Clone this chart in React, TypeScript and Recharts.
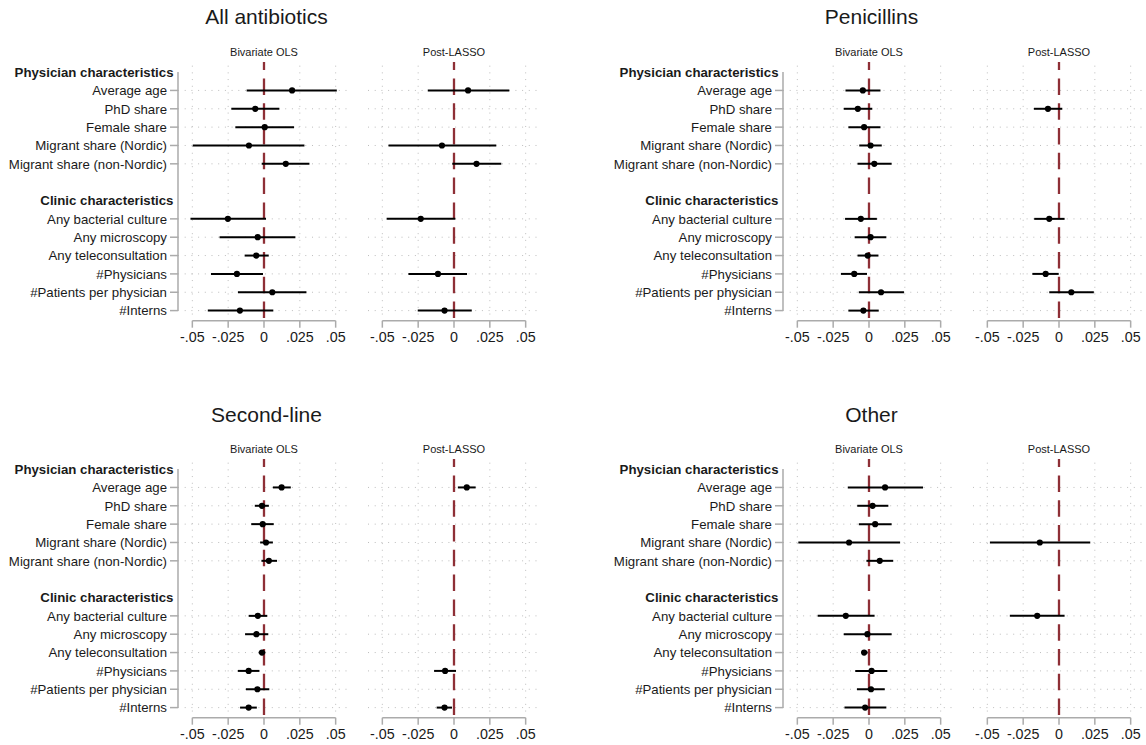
import React from 'react';
import { ScatterChart, Scatter, XAxis, YAxis, ErrorBar, ReferenceLine } from 'recharts';

// ---------- Data ----------
const rowLabels = [
  'Physician characteristics',
  'Average age',
  'PhD share',
  'Female share',
  'Migrant share (Nordic)',
  'Migrant share (non-Nordic)',
  '',
  'Clinic characteristics',
  'Any bacterial culture',
  'Any microscopy',
  'Any teleconsultation',
  '#Physicians',
  '#Patients per physician',
  '#Interns',
];
const headerRows = [0, 7];
const variableRows = [1, 2, 3, 4, 5, 8, 9, 10, 11, 12, 13];
const allRows = [0, 1, 2, 3, 4, 5, 6, 7, 8, 9, 10, 11, 12, 13];
const xTicks = [-0.05, -0.025, 0, 0.025, 0.05];
const gridX = [-0.05, -0.025, 0.025, 0.05];
const panelTitles = ['All antibiotics', 'Penicillins', 'Second-line', 'Other'];
const subTitles = ['Bivariate OLS', 'Post-LASSO'];

// All antibiotics
const allOlsCoef = [0.0196, -0.0061, 0.0005, -0.0105, 0.0152, -0.0252, -0.0044, -0.0054, -0.0189, 0.0058, -0.0168];
const allOlsLow = [-0.0121, -0.0228, -0.02, -0.0497, -0.0016, -0.0513, -0.031, -0.0135, -0.037, -0.0182, -0.0392];
const allOlsHigh = [0.0508, 0.0107, 0.021, 0.0282, 0.0317, 0.0014, 0.0219, 0.0033, -0.0007, 0.0296, 0.0065];
const allLassoCoef = [0.0098, null, null, -0.0084, 0.0157, -0.0232, null, null, -0.0112, null, -0.0066];
const allLassoLow = [-0.0183, null, null, -0.0457, -0.0012, -0.047, null, null, -0.0318, null, -0.0253];
const allLassoHigh = [0.0386, null, null, 0.0295, 0.033, 0.0009, null, null, 0.0091, null, 0.0124];

// Penicillins
const penOlsCoef = [-0.0043, -0.0078, -0.0034, 0.0011, 0.0037, -0.0057, 0.0011, -0.0009, -0.0103, 0.0084, -0.0039];
const penOlsLow = [-0.0164, -0.0176, -0.0144, -0.0068, -0.008, -0.0167, -0.01, -0.008, -0.0196, -0.0071, -0.0144];
const penOlsHigh = [0.008, 0.0023, 0.008, 0.0089, 0.0158, 0.0055, 0.0121, 0.0066, -0.0014, 0.0244, 0.0068];
const penLassoCoef = [null, -0.0077, null, null, null, -0.0068, null, null, -0.0093, 0.0086, null];
const penLassoLow = [null, -0.0175, null, null, null, -0.0173, null, null, -0.0186, -0.0068, null];
const penLassoHigh = [null, 0.0023, null, null, null, 0.0039, null, null, -0.0002, 0.0243, null];

// Second-line
const secOlsCoef = [0.0123, -0.0014, -0.0009, 0.0014, 0.0034, -0.0043, -0.0053, -0.0014, -0.0107, -0.0046, -0.0107];
const secOlsLow = [0.0062, -0.0064, -0.0089, -0.0027, -0.0018, -0.0107, -0.0132, -0.0037, -0.0183, -0.0126, -0.0167];
const secOlsHigh = [0.0187, 0.0034, 0.0068, 0.0062, 0.0091, 0.0023, 0.003, 0.0009, -0.0032, 0.0037, -0.005];
const secLassoCoef = [0.0089, null, null, null, null, null, null, null, -0.0062, null, -0.0066];
const secLassoLow = [0.0027, null, null, null, null, null, null, null, -0.0139, null, -0.0121];
const secLassoHigh = [0.0151, null, null, null, null, null, null, null, 0.0014, null, -0.0014];

// Other
const othOlsCoef = [0.0112, 0.0025, 0.0043, -0.0139, 0.0075, -0.0162, -0.0011, -0.0034, 0.0018, 0.0014, -0.0027];
const othOlsLow = [-0.0148, -0.0082, -0.0071, -0.0493, -0.0018, -0.0358, -0.0176, -0.005, -0.0096, -0.0084, -0.0171];
const othOlsHigh = [0.0377, 0.0135, 0.0158, 0.0217, 0.0169, 0.0039, 0.0158, -0.0009, 0.0128, 0.011, 0.0121];
const othLassoCoef = [null, null, null, -0.0134, null, -0.0152, null, null, null, null, null];
const othLassoLow = [null, null, null, -0.0482, null, -0.0343, null, null, null, null, null];
const othLassoHigh = [null, null, null, 0.0218, null, 0.0039, null, null, null, null, null];

// ---------- Style / layout ----------
const FONT = '"Liberation Sans", Arial, Helvetica, sans-serif';
const TEXT = '#1a1a1a';
const GRAY = '#ababab';
const GRID = '#bdbdbd';
const RED = '#8e2f36';
const PLOT_W = 172;
const PLOT_H = 258.7;
const AXIS_H = 30;
const Y_AXIS_W = 178;
const LASSO_LEFT = 368;
const panelLefts = [0, 605];
const panelPlotTops = [61.7, 459.2];
const titleBaselines = [24, 422];
const subBaselines = [55.5, 453];

type Pt = { x: number; row: number; err: [number, number] };

function buildPoints(coef: (number | null)[], low: (number | null)[], high: (number | null)[]): Pt[] {
  const pts: Pt[] = [];
  coef.forEach((c, i) => {
    if (c === null || low[i] === null || high[i] === null) return;
    pts.push({ x: c, row: variableRows[i], err: [c - (low[i] as number), (high[i] as number) - c] });
  });
  return pts;
}

const fmt = (v: number) => {
  if (v === 0) return '0';
  const s = String(Math.abs(v)).replace(/^0/, '');
  return (v < 0 ? '-' : '') + s;
};

const renderYTick = (props: any) => {
  const { x, y, payload } = props;
  const row = payload.value as number;
  const label = rowLabels[row];
  if (!label) return <g />;
  const isHeader = headerRows.includes(row);
  return (
    <g>
      {!isHeader && <line x1={x - 8} x2={x} y1={y} y2={y} stroke={GRAY} strokeWidth={1.5} />}
      <text
        x={isHeader ? x - 4.5 : x - 11}
        y={y}
        dy="0.36em"
        textAnchor="end"
        fontFamily={FONT}
        fontSize={13.25}
        fontWeight={isHeader ? 'bold' : 'normal'}
        fill={TEXT}
      >
        {label}
      </text>
    </g>
  );
};

const Dot = (props: any) => <circle cx={props.cx} cy={props.cy} r={3.1} fill="#000" />;

function SubPlot({ points, showY, left, top }: { points: Pt[]; showY: boolean; left: number; top: number }) {
  const yW = showY ? Y_AXIS_W : 0;
  return (
    <div style={{ position: 'absolute', left: left - yW, top }}>
      <ScatterChart width={yW + PLOT_W} height={PLOT_H + AXIS_H} margin={{ top: 0, right: 0, bottom: 0, left: 0 }}>
        <XAxis
          type="number"
          dataKey="x"
          domain={[-0.06, 0.06]}
          allowDataOverflow
          ticks={xTicks}
          interval={0}
          tickFormatter={fmt}
          axisLine={false}
          tickLine={{ stroke: GRAY, strokeWidth: 1.5 }}
          tickSize={7}
          tickMargin={4}
          height={AXIS_H}
          tick={{ fill: TEXT, fontSize: 14.3, fontFamily: FONT }}
        />
        <YAxis
          type="number"
          dataKey="row"
          domain={[-0.55, 13.55]}
          allowDataOverflow
          reversed
          ticks={allRows}
          interval={0}
          hide={!showY}
          width={yW}
          axisLine={false}
          tickLine={false}
          tickSize={0}
          tickMargin={0}
          tick={renderYTick}
        />
        {variableRows.map((r) => (
          <ReferenceLine key={'h' + r} y={r} stroke={GRID} strokeWidth={1} strokeDasharray="1 5.7" ifOverflow="visible" />
        ))}
        {gridX.map((v) => (
          <ReferenceLine
            key={'v' + v}
            segment={[{ x: v, y: -0.35 }, { x: v, y: 13.35 }]}
            stroke={GRID}
            strokeWidth={1}
            strokeDasharray="1 5.7"
            ifOverflow="visible"
          />
        ))}
        <ReferenceLine
          segment={[{ x: 0, y: -0.55 }, { x: 0, y: 13.55 }]}
          stroke={RED}
          strokeWidth={2.3}
          strokeDasharray="16.5 8.3"
          strokeDashoffset={8.4}
          ifOverflow="visible"
        />
        {showY && (
          <ReferenceLine
            segment={[{ x: -0.06, y: 0 }, { x: -0.06, y: 13 }]}
            stroke={GRAY}
            strokeWidth={1.5}
            ifOverflow="visible"
          />
        )}
        <ReferenceLine
          segment={[{ x: -0.05, y: 13.55 }, { x: 0.05, y: 13.55 }]}
          stroke={GRAY}
          strokeWidth={1.5}
          ifOverflow="visible"
        />
        <Scatter data={points} isAnimationActive={false} shape={Dot}>
          <ErrorBar dataKey="err" direction="x" width={0} stroke="#000" strokeWidth={2} isAnimationActive={false} />
        </Scatter>
      </ScatterChart>
    </div>
  );
}

const panels = [
  { ols: buildPoints(allOlsCoef, allOlsLow, allOlsHigh), lasso: buildPoints(allLassoCoef, allLassoLow, allLassoHigh) },
  { ols: buildPoints(penOlsCoef, penOlsLow, penOlsHigh), lasso: buildPoints(penLassoCoef, penLassoLow, penLassoHigh) },
  { ols: buildPoints(secOlsCoef, secOlsLow, secOlsHigh), lasso: buildPoints(secLassoCoef, secLassoLow, secLassoHigh) },
  { ols: buildPoints(othOlsCoef, othOlsLow, othOlsHigh), lasso: buildPoints(othLassoCoef, othLassoLow, othLassoHigh) },
];

export default function App() {
  return (
    <div style={{ position: 'absolute', left: 0, top: 0, width: 1146, height: 745, background: '#fff', overflow: 'hidden' }}>
      {panels.map((p, i) => {
        const col = i % 2;
        const rowIdx = Math.floor(i / 2);
        const left = panelLefts[col];
        const top = panelPlotTops[rowIdx];
        return (
          <React.Fragment key={i}>
            <SubPlot points={p.ols} showY={true} left={left + Y_AXIS_W} top={top} />
            <SubPlot points={p.lasso} showY={false} left={left + LASSO_LEFT} top={top} />
          </React.Fragment>
        );
      })}
      <svg width={1146} height={745} style={{ position: 'absolute', left: 0, top: 0, pointerEvents: 'none' }}>
        {panelTitles.map((t, i) => {
          const col = i % 2;
          const rowIdx = Math.floor(i / 2);
          const left = panelLefts[col];
          return (
            <g key={t}>
              <text x={left + 266.5} y={titleBaselines[rowIdx]} textAnchor="middle" fontFamily={FONT} fontSize={21} fill={TEXT}>
                {t}
              </text>
              <text x={left + Y_AXIS_W + PLOT_W / 2} y={subBaselines[rowIdx]} textAnchor="middle" fontFamily={FONT} fontSize={11} fill={TEXT}>
                {subTitles[0]}
              </text>
              <text x={left + LASSO_LEFT + PLOT_W / 2} y={subBaselines[rowIdx]} textAnchor="middle" fontFamily={FONT} fontSize={11} fill={TEXT}>
                {subTitles[1]}
              </text>
            </g>
          );
        })}
      </svg>
    </div>
  );
}
